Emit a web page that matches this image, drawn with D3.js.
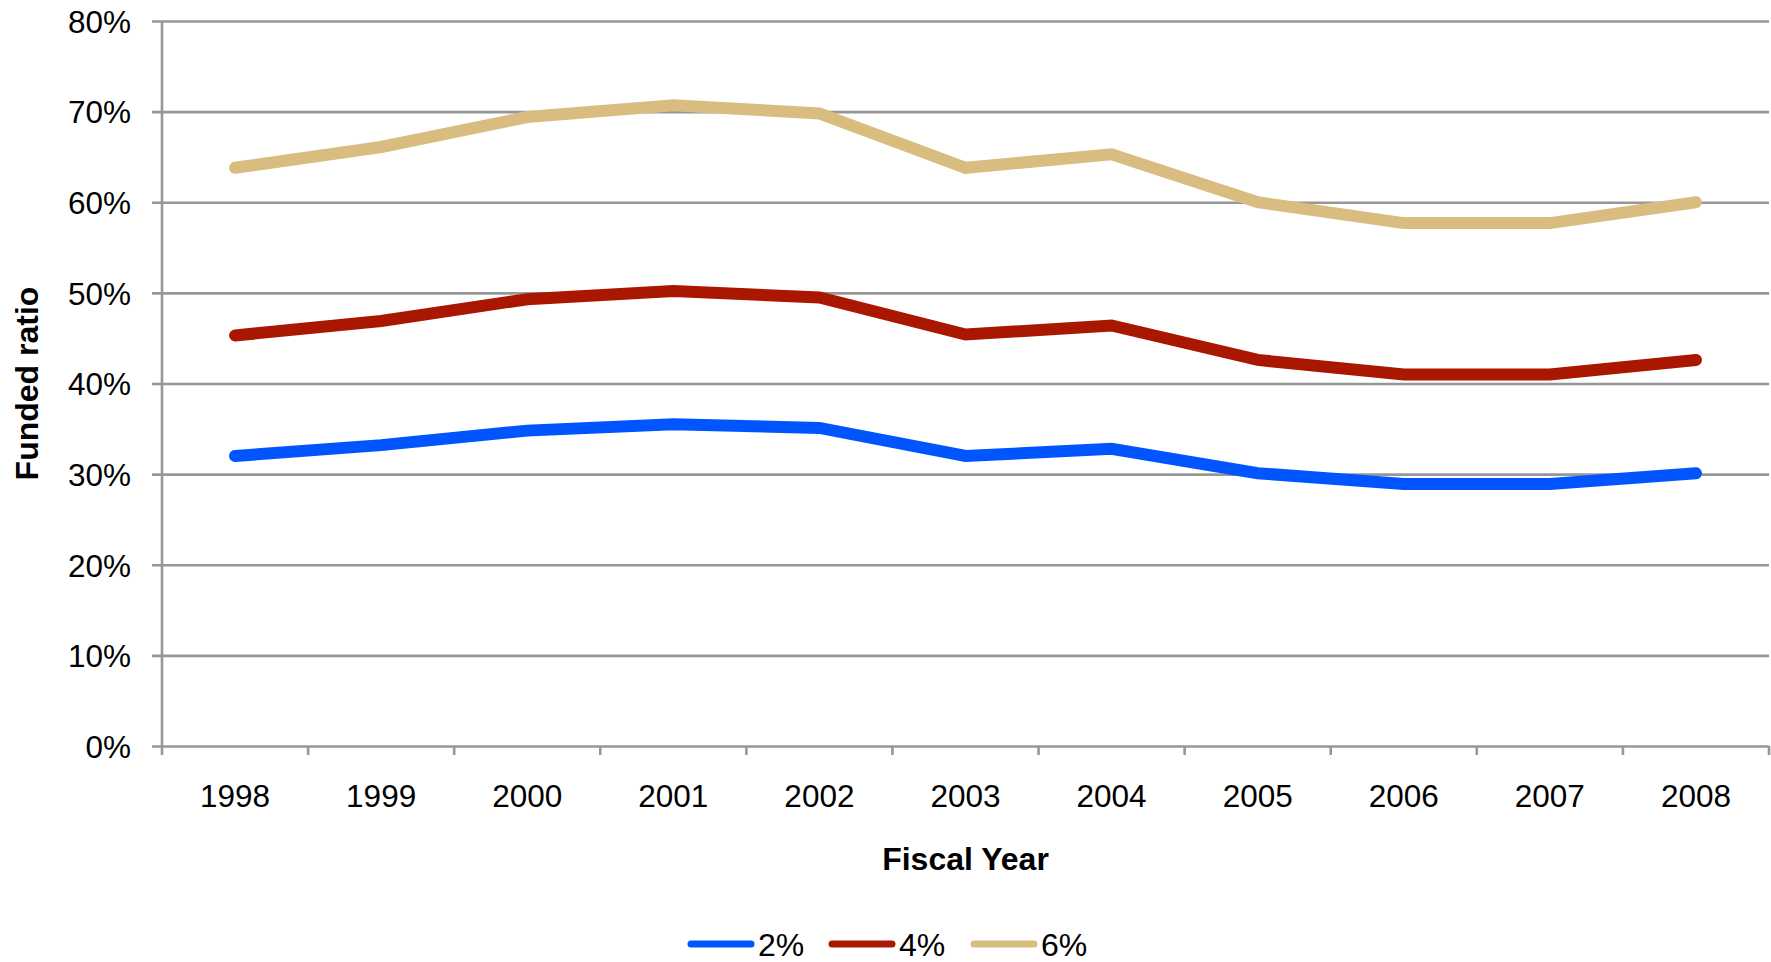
<!DOCTYPE html>
<html>
<head>
<meta charset="utf-8">
<script src="https://cdn.jsdelivr.net/npm/d3@7"></script>
<style>
  html, body { margin: 0; padding: 0; background: #fff; }
  svg { display: block; font-family: "Liberation Sans", Arial, sans-serif; }
</style>
</head>
<body>
<svg id="chart" width="1771" height="962"></svg>
<script>
// Fiscal years on the x axis
const years = ["1998","1999","2000","2001","2002","2003","2004","2005","2006","2007","2008"];

// Funded ratio (%) under each assumed rate
const rate2 = [32.0, 33.2, 34.8, 35.5, 35.1, 32.0, 32.8, 30.1, 28.9, 28.9, 30.1];
const rate4 = [45.3, 46.9, 49.3, 50.2, 49.5, 45.4, 46.4, 42.6, 41.0, 41.0, 42.6];
const rate6 = [63.8, 66.1, 69.4, 70.7, 69.8, 63.8, 65.3, 60.0, 57.7, 57.7, 60.0];

const seriesNames = ["2%", "4%", "6%"];
const yTicks = [0, 10, 20, 30, 40, 50, 60, 70, 80];

(function () {
  const series = [
    { name: seriesNames[0], values: rate2, color: "#0055FF" },
    { name: seriesNames[1], values: rate4, color: "#AA1700" },
    { name: seriesNames[2], values: rate6, color: "#D9BD80" }
  ];

  const svg = d3.select("#chart");
  const plotL = 162, plotR = 1769, plotT = 21, plotB = 746;
  const gridColor = "#979797";

  const x = d3.scaleBand().domain(years).range([plotL, plotR]).paddingInner(0).paddingOuter(0);
  const y = d3.scaleLinear().domain([0, 80]).range([plotB, plotT]);

  // horizontal gridlines with short ticks left of the axis
  const yAxis = d3.axisLeft(y).tickValues(yTicks).tickFormat(d => d + "%").tickSize(0).tickPadding(0);
  const gy = svg.append("g").attr("transform", `translate(${plotL - 10},0)`).call(yAxis);
  gy.select(".domain").remove();
  gy.selectAll(".tick line")
    .attr("stroke", gridColor).attr("stroke-width", 2.6)
    .attr("x1", 0).attr("x2", plotR - plotL + 10);
  gy.selectAll(".tick text")
    .attr("x", -21).attr("dy", "0.36em")
    .attr("fill", "#000")
    .style("font-size", "31.5px")
    .style("font-family", "Liberation Sans, Arial, sans-serif");

  // vertical axis line
  svg.append("line")
    .attr("x1", plotL).attr("x2", plotL).attr("y1", plotT).attr("y2", plotB + 9)
    .attr("stroke", gridColor).attr("stroke-width", 2.6);

  // category boundary ticks on the x axis
  const boundaries = years.map(d => x(d)).concat([plotR]);
  svg.append("g").selectAll("line").data(boundaries.slice(1)).join("line")
    .attr("x1", d => d).attr("x2", d => d)
    .attr("y1", plotB).attr("y2", plotB + 9)
    .attr("stroke", gridColor).attr("stroke-width", 2.6);

  // year labels
  svg.append("g").selectAll("text").data(years).join("text")
    .attr("x", d => x(d) + x.bandwidth() / 2)
    .attr("y", 807)
    .attr("text-anchor", "middle")
    .style("font-size", "31.5px")
    .text(d => d);

  // series lines
  const line = d3.line()
    .x((d, i) => x(years[i]) + x.bandwidth() / 2)
    .y(d => y(d));

  svg.append("g").selectAll("path").data(series).join("path")
    .attr("d", d => line(d.values))
    .attr("fill", "none")
    .attr("stroke", d => d.color)
    .attr("stroke-width", 12)
    .attr("stroke-linecap", "round")
    .attr("stroke-linejoin", "miter");

  // axis titles
  svg.append("text")
    .attr("x", (plotL + plotR) / 2).attr("y", 870)
    .attr("text-anchor", "middle")
    .style("font-size", "32px").style("font-weight", "bold")
    .text("Fiscal Year");

  svg.append("text")
    .attr("transform", `translate(38,${(plotT + plotB) / 2}) rotate(-90)`)
    .attr("text-anchor", "middle")
    .style("font-size", "32px").style("font-weight", "bold")
    .text("Funded ratio");

  // legend
  const legendX = [691, 832, 974];
  const lg = svg.append("g").selectAll("g").data(series).join("g")
    .attr("transform", (d, i) => `translate(${legendX[i]},944)`);
  lg.append("line")
    .attr("x1", 0).attr("x2", 60).attr("y1", 0).attr("y2", 0)
    .attr("stroke", d => d.color).attr("stroke-width", 7).attr("stroke-linecap", "round");
  lg.append("text")
    .attr("x", 67).attr("y", 12)
    .style("font-size", "32px")
    .text(d => d.name);
})();
</script>
</body>
</html>
